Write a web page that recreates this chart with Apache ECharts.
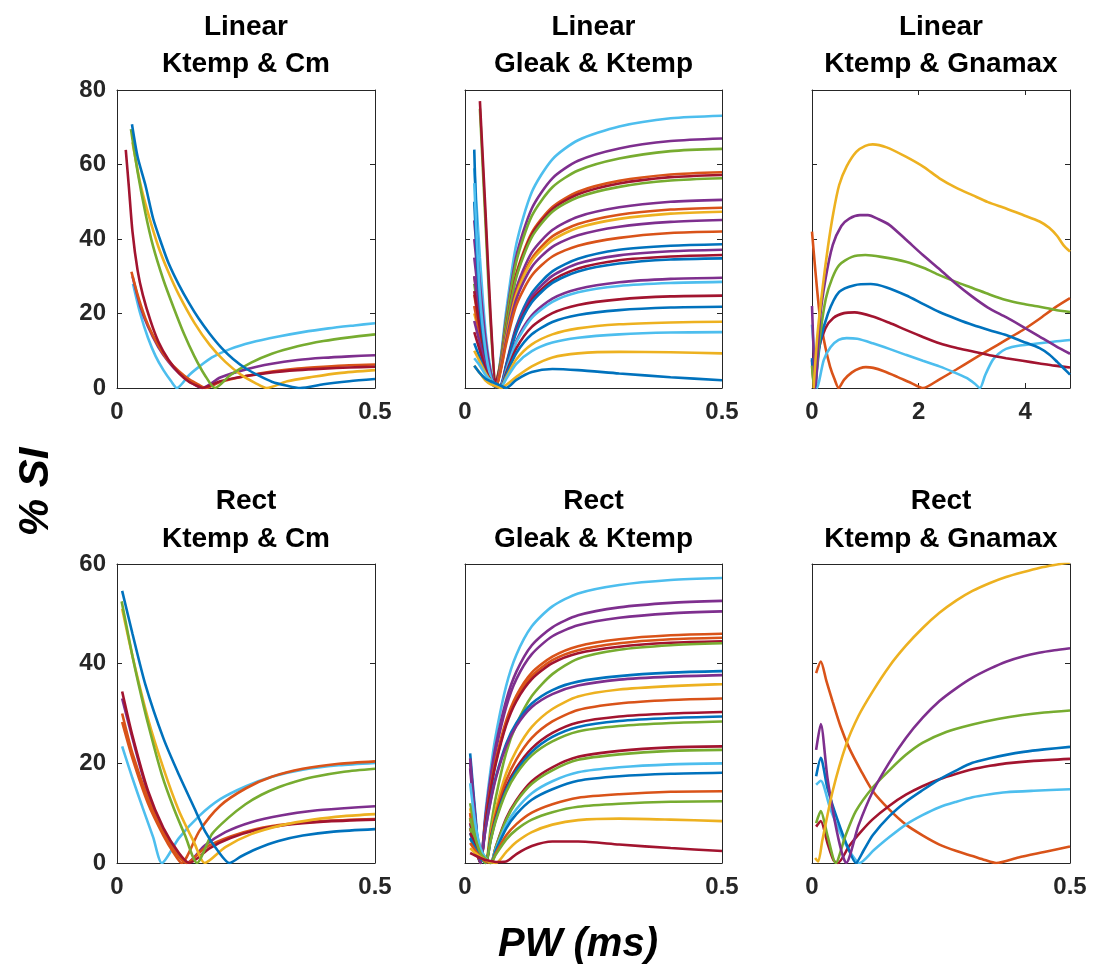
<!DOCTYPE html>
<html><head><meta charset="utf-8">
<script src="https://cdn.jsdelivr.net/npm/echarts@6/dist/echarts.min.js"></script>
<style>html,body{margin:0;padding:0;background:#fff}#c{width:1095px;height:973px}</style>
</head><body><div id="c"></div>
<script>
// MATLAB default colour order
const COL = {blue:'#0072BD', orange:'#D95319', yellow:'#EDB120', purple:'#7E2F8E', green:'#77AC30', lblue:'#4DBEEE', dred:'#A2142F'};

// ---------- Panel titles / axis texts ----------
const rowNames = ['Linear', 'Rect'];
const colNames = ['Ktemp & Cm', 'Gleak & Ktemp', 'Ktemp & Gnamax'];
const yTicksTop = [0, 20, 40, 60, 80];
const yTicksBottom = [0, 20, 40, 60];
const xTicksPW = [0, 0.5];
const xTicksGna = [0, 2, 4];
const yAxisName = '% SI';
const xAxisName = 'PW (ms)';

// ---------- Panel 1: Linear, Ktemp & Cm  ([PW, %SI]) ----------
const p1_blue   = [[0.029,70.8],[0.04,62],[0.055,54.5],[0.07,45.5],[0.087,38.4],[0.1,33.5],[0.12,27.7],[0.14,22.7],[0.158,18.7],[0.18,14.5],[0.203,10.7],[0.225,7.8],[0.249,5.3],[0.275,3.3],[0.3,1.7],[0.33,0.6],[0.355,0],[0.4,1.0],[0.45,1.8],[0.5,2.4]];
const p1_green  = [[0.027,69.5],[0.04,58],[0.055,47],[0.07,38],[0.09,29],[0.11,21.5],[0.13,14.5],[0.15,8.5],[0.17,3.5],[0.19,0],[0.22,3.5],[0.26,6.8],[0.3,9.2],[0.35,11.2],[0.4,12.6],[0.45,13.6],[0.5,14.4]];
const p1_yellow = [[0.03,66],[0.045,55],[0.06,47],[0.08,38],[0.1,31],[0.12,25],[0.15,17.5],[0.18,11.5],[0.21,7],[0.24,3.6],[0.27,1.2],[0.29,0],[0.33,1.8],[0.38,3],[0.43,4],[0.5,4.8]];
const p1_dred   = [[0.017,63.9],[0.023,54],[0.03,42],[0.04,31.5],[0.05,25],[0.065,18],[0.08,12.5],[0.1,7.5],[0.12,4],[0.14,1.6],[0.16,0.3],[0.165,0],[0.2,1.8],[0.25,3.2],[0.3,4.2],[0.35,4.8],[0.4,5.2],[0.45,5.5],[0.5,5.7]];
const p1_orange = [[0.028,31.2],[0.04,25],[0.055,18.7],[0.07,14],[0.087,9.8],[0.1,7.3],[0.12,4.5],[0.14,2.3],[0.158,0.9],[0.172,0],[0.2,1.6],[0.25,3.2],[0.3,4.4],[0.35,5.2],[0.4,5.7],[0.45,6.1],[0.5,6.3]];
const p1_purple = [[0.03,30],[0.045,22],[0.06,16.5],[0.08,11],[0.1,7],[0.12,4],[0.14,1.8],[0.165,0],[0.2,2.8],[0.25,5],[0.3,6.5],[0.35,7.5],[0.4,8.1],[0.45,8.5],[0.5,8.8]];
const p1_lblue  = [[0.031,28],[0.045,20],[0.06,13.5],[0.075,8.5],[0.09,4.8],[0.105,1.8],[0.116,0],[0.14,3.5],[0.16,5.8],[0.184,8.2],[0.22,10.5],[0.26,12.2],[0.313,13.8],[0.36,15],[0.41,16],[0.46,16.8],[0.5,17.4]];

// ---------- Panel 2: Linear, Gleak & Ktemp (shared PW samples) ----------
const p2x = [0.018,0.029,0.04,0.05,0.06,0.07,0.08,0.1,0.13,0.17,0.22,0.3,0.4,0.5];
const p2_01 = [59,35,15,5,0.5,8.8,20.5,38.7,52.6,61.4,66.5,70.2,72.4,73.1];
const p2_02 = [40,25,12,4,0.5,8.0,18.8,35.5,48.2,56.3,61,64.3,66.3,67];
const p2_03 = [null,75,44,17,1.5,7.7,18,34,46.2,53.9,58.4,61.6,63.6,64.2];
const p2_04 = [30,20,10,3.5,0.5,6.9,16.2,30.7,41.7,48.6,52.7,55.6,57.3,57.9];
const p2_05 = [null,77,47,19,1.5,6.9,16,30.3,41.2,48,52,54.9,56.6,57.2];
const p2_06 = [28,18,9,3,0.3,6.8,15.8,29.8,40.5,47.3,51.2,54,55.7,56.3];
const p2_07 = [45,28,13,4,0.5,6.1,14.1,26.8,36.4,42.4,46,48.5,50,50.5];
const p2_08 = [25,16,8,2.5,0.3,5.8,13.6,25.7,34.8,40.7,44,46.5,47.9,48.4];
const p2_09 = [20,14,7,2,0.3,5.7,13.2,25.1,34.1,39.7,43,45.4,46.8,47.3];
const p2_10 = [35,22,10,3,0.4,5.4,12.6,23.9,32.5,37.9,41,43.3,44.6,45.1];
const p2_11 = [22,14,7,2,0.3,5.0,11.8,22.3,30.2,35.3,38.2,40.3,41.6,42];
const p2_12 = [64,20,6,1.5,0.3,0.8,6.2,16.6,25.5,31.3,34.7,37.1,38.2,38.6];
const p2_13 = [30,18,8,2.5,0.5,0.7,5.9,16,24.5,30.1,33.4,35.6,36.7,37.1];
const p2_14 = [26,16,8,3,0.8,0.7,5.7,15.4,23.6,28.9,32.1,34.3,35.3,35.7];
const p2_15 = [50,22,9,3,0.6,0.7,5.6,15,23,28.2,31.3,33.4,34.5,34.8];
const p2_16 = [18,12,6,2,0.5,0.6,4.7,12.7,19.5,24,26.6,28.4,29.3,29.6];
const p2_17 = [55,25,10,3,0.5,0.6,4.6,12.3,18.8,23.1,25.7,27.4,28.2,28.5];
const p2_18 = [15,10,5,2,0.5,0.5,4,10.7,16.4,20.1,22.3,23.8,24.6,24.8];
const p2_19 = [12,8,4,1.5,0.5,0.4,3.5,9.4,14.4,17.7,19.6,20.9,21.6,21.8];
const p2_20 = [10,7,4,2,1,0.3,2.8,7.7,11.7,14.4,16,17.1,17.6,17.8];
const p2_21 = [8,6,3.5,2,1,0.3,2.4,6.5,9.9,12.2,13.5,14.4,14.9,15];
const p2_22 = [6,4,2,1,0.5,0,0.8,3,5.8,8.2,9.3,9.7,9.6,9.3];
const p2_23 = [6,4,2.5,1.8,1.2,0.6,0,2.2,4.3,5.1,4.8,3.9,2.9,2.1];
const p2_colors = ['lblue','purple','green','orange','dred','green','purple','orange','yellow','purple','orange','blue','purple','dred','blue','purple','lblue','dred','blue','yellow','lblue','yellow','blue'];

// ---------- Panel 3: Linear, Ktemp & Gnamax ----------
const p3_yellow = [[0.03,0],[0.1,14],[0.2,27],[0.3,38],[0.4,47],[0.51,54.5],[0.65,59.5],[0.83,63.4],[1.0,65],[1.14,65.4],[1.4,64.6],[1.76,62.1],[2.1,59.3],[2.39,56.3],[2.7,53.8],[3.02,51.7],[3.3,49.9],[3.64,48.2],[3.95,46.5],[4.27,44.7],[4.45,43],[4.6,40.8],[4.72,38.3],[4.84,36.6]];
const p3_purple = [[0,22],[0.03,10],[0.06,0],[0.15,18.7],[0.25,29],[0.39,38.4],[0.55,43.5],[0.7,45.5],[0.9,46.4],[1.05,46.4],[1.25,45.3],[1.45,43.8],[1.75,40],[2.08,35.7],[2.4,31.8],[2.7,28],[3.0,24.6],[3.3,21.6],[3.64,19],[3.95,16.5],[4.27,13.8],[4.58,11.2],[4.84,9.2]];
const p3_green  = [[0,6],[0.04,0],[0.15,14],[0.26,24],[0.38,29.5],[0.51,33],[0.75,35.2],[1.0,35.7],[1.3,35.2],[1.76,33.9],[2.1,32.2],[2.39,30.3],[2.7,28.5],[3.02,26.8],[3.33,25.1],[3.64,23.6],[3.95,22.6],[4.27,21.8],[4.55,21],[4.84,20.4]];
const p3_blue   = [[0,8],[0.05,0],[0.15,12],[0.3,20],[0.51,25.8],[0.8,27.6],[1.1,27.9],[1.4,27],[1.76,24.9],[2.08,22.6],[2.39,20.4],[2.7,18.6],[3.02,16.9],[3.33,15.5],[3.64,14.2],[3.95,12.5],[4.27,10.7],[4.45,9],[4.6,7],[4.72,5.3],[4.84,3.6]];
const p3_dred   = [[0,7.5],[0.04,0],[0.12,10],[0.25,16],[0.4,18.8],[0.6,20.1],[0.8,20.3],[1.14,19.2],[1.45,17.5],[1.76,15.6],[2.08,13.7],[2.39,12],[2.7,10.8],[3.02,9.8],[3.33,8.8],[3.64,8],[3.95,7.3],[4.27,6.6],[4.55,6],[4.84,5.5]];
const p3_lblue  = [[0,17],[0.05,8],[0.1,0],[0.22,7.5],[0.35,11],[0.5,12.9],[0.65,13.4],[0.85,13.2],[1.14,12],[1.45,10.5],[1.76,8.9],[2.08,7.3],[2.39,5.8],[2.65,4.3],[2.9,2.7],[3.05,1.2],[3.15,0],[3.25,3.5],[3.39,7.5],[3.5,9.2],[3.64,10.5],[3.9,11.4],[4.27,12],[4.55,12.5],[4.84,12.9]];
const p3_orange = [[0,42],[0.06,32],[0.15,19],[0.25,11],[0.34,5.7],[0.42,2.5],[0.5,0],[0.6,2.2],[0.75,4.2],[0.9,5.3],[1.01,5.6],[1.15,5.4],[1.35,4.5],[1.6,3],[1.85,1.4],[2.08,0],[2.4,2.4],[2.7,4.9],[3.02,7.7],[3.33,10.3],[3.64,12.9],[3.95,15.5],[4.27,18.6],[4.55,21.5],[4.84,24.1]];

// ---------- Panel 4: Rect, Ktemp & Cm ----------
const p4_blue    = [[0.01,54.6],[0.03,46],[0.055,35.8],[0.09,25],[0.12,17.7],[0.15,11],[0.171,6.3],[0.195,2.5],[0.218,0],[0.24,1.3],[0.27,2.8],[0.313,4.4],[0.36,5.5],[0.42,6.3],[0.5,6.8]];
const p4_green   = [[0.009,52.5],[0.03,41.5],[0.042,35.8],[0.06,28],[0.087,17.7],[0.11,11],[0.132,5.5],[0.155,0],[0.184,5.8],[0.215,9],[0.249,11.8],[0.28,13.7],[0.313,15.2],[0.345,16.3],[0.378,17.2],[0.44,18.3],[0.5,18.9]];
const p4_yellow  = [[0.01,51],[0.03,41.5],[0.06,29],[0.09,19],[0.12,10.5],[0.15,4],[0.17,0],[0.21,3.2],[0.26,5.8],[0.32,7.6],[0.38,8.7],[0.44,9.4],[0.5,9.8]];
const p4_lblue   = [[0.01,23.4],[0.03,17],[0.05,11],[0.07,5.2],[0.087,0],[0.12,5],[0.16,9.5],[0.2,12.8],[0.25,15.4],[0.3,17.3],[0.36,18.7],[0.43,19.6],[0.5,20.1]];
const p4_orange  = [[0.01,28.3],[0.03,21],[0.06,12],[0.09,5.5],[0.11,2],[0.125,0],[0.16,6.5],[0.2,11.5],[0.25,15],[0.3,17.3],[0.36,18.9],[0.43,19.9],[0.5,20.4]];
const p4_purple  = [[0.01,33],[0.03,25],[0.06,14],[0.09,6.5],[0.12,1.5],[0.135,0],[0.17,3.5],[0.21,6.2],[0.26,8.2],[0.32,9.6],[0.38,10.5],[0.44,11],[0.5,11.4]];
const p4_dred    = [[0.01,34.4],[0.03,25.5],[0.06,14.5],[0.09,7],[0.12,2],[0.14,0],[0.18,3],[0.22,5],[0.27,6.6],[0.33,7.7],[0.4,8.3],[0.5,8.7]];
const p4_orange2 = [[0.01,30],[0.03,22],[0.06,13],[0.09,6],[0.12,1.2],[0.135,0],[0.17,3],[0.22,5.3],[0.27,6.8],[0.33,7.8],[0.4,8.4],[0.5,8.8]];

// ---------- Panel 5: Rect, Gleak & Ktemp (shared PW samples) ----------
const p5x = [0.01,0.02,0.03,0.04,0.05,0.06,0.08,0.1,0.13,0.17,0.22,0.3,0.4,0.5];
const p5_01 = [8,3,0,10.3,18.9,25.7,35.5,41.8,47.5,51.5,54.1,55.8,56.8,57.2];
const p5_02 = [20,9,0,9.5,17.4,23.7,32.6,38.4,43.7,47.3,49.7,51.3,52.2,52.6];
const p5_03 = [19,8,0,9.1,16.7,22.7,31.3,36.9,41.9,45.5,47.7,49.2,50.1,50.5];
const p5_04 = [10,4,0,8.3,15.2,20.7,28.5,33.6,38.2,41.4,43.5,44.9,45.7,46];
const p5_05 = [9,3.5,0,8.1,14.9,20.3,28,33,37.5,40.7,42.7,44.1,44.9,45.2];
const p5_06 = [7,3,0,8,14.7,20,27.6,32.5,36.9,40.1,42.1,43.4,44.2,44.5];
const p5_07 = [5,3,1.2,0,7.1,13.2,22.1,27.8,33.5,37.9,41,42.8,43.7,44.1];
const p5_08 = [22,10,0,6.9,12.7,17.3,23.9,28.1,32,34.7,36.4,37.5,38.2,38.5];
const p5_09 = [21,9,0,6.8,12.4,17,23.4,27.5,31.3,33.9,35.6,36.8,37.4,37.7];
const p5_10 = [11,6,2,0,5.7,10.8,18,22.6,27.3,30.9,33.4,34.8,35.5,35.9];
const p5_11 = [10,5.5,2,0,5.3,9.9,16.5,20.8,25.1,28.4,30.7,32,32.7,33];
const p5_12 = [8,4,1.5,0,4.8,9.1,15.2,19.1,23,26.1,28.2,29.4,30,30.3];
const p5_13 = [6,3,1,0,4.7,8.8,14.7,18.5,22.3,25.3,27.3,28.5,29.1,29.4];
const p5_14 = [7,4,1.5,0,4.5,8.5,14.2,17.9,21.6,24.4,26.4,27.5,28.1,28.4];
const p5_15 = [6,4,2,0.8,0,3.3,8.9,12.6,16.4,19.2,21.3,22.5,23.2,23.4];
const p5_16 = [12,7,3,1,0,3.2,8.6,12.3,15.9,18.6,20.7,21.8,22.5,22.7];
const p5_17 = [16,8,3,1,0,2.8,7.6,10.8,14,16.4,18.2,19.2,19.8,20];
const p5_18 = [5,3,1.5,0.5,0,2.5,6.9,9.8,12.7,14.8,16.5,17.4,17.9,18.1];
const p5_19 = [4,2.5,1.2,0.4,0,2,5.5,7.8,10.1,11.8,13.1,13.8,14.3,14.4];
const p5_20 = [9,5,2,0.8,0,1.7,4.7,6.7,8.7,10.2,11.3,11.9,12.3,12.4];
const p5_21 = [3,2,1.2,0.6,0.2,0,2.2,4.2,6.2,7.7,8.6,8.9,8.7,8.4];
const p5_22 = [2,1.5,1,0.6,0.4,0.2,0.3,1.8,3.4,4.3,4.3,3.7,3,2.4];
const p5_colors = ['lblue','purple','purple','orange','orange','dred','green','blue','purple','yellow','orange','dred','blue','green','dred','green','lblue','blue','orange','green','yellow','dred'];

// ---------- Panel 6: Rect, Ktemp & Gnamax ----------
const p6_yellow = [[0.006,1],[0.012,0.3],[0.02,4.5],[0.04,14.4],[0.066,23.7],[0.09,29.5],[0.118,34.5],[0.15,39.5],[0.182,43.6],[0.215,47.2],[0.247,50.2],[0.28,52.7],[0.311,54.6],[0.345,56.2],[0.376,57.4],[0.41,58.4],[0.44,59.2],[0.47,59.8],[0.5,60.3]];
const p6_purple = [[0.008,22.7],[0.017,27.9],[0.03,17],[0.045,8],[0.058,2],[0.066,0],[0.09,7.5],[0.118,14.4],[0.15,20.2],[0.182,25.1],[0.215,29.2],[0.247,32.5],[0.28,35.1],[0.311,37.2],[0.345,39],[0.376,40.4],[0.41,41.5],[0.44,42.2],[0.47,42.7],[0.5,43.1]];
const p6_green  = [[0.008,8],[0.017,10.4],[0.03,5.5],[0.046,0],[0.065,5.5],[0.085,10.4],[0.118,15.2],[0.15,18.6],[0.182,21.7],[0.214,24.1],[0.26,26.3],[0.311,27.8],[0.36,28.9],[0.408,29.7],[0.45,30.2],[0.5,30.6]];
const p6_blue   = [[0.008,17.4],[0.017,21.1],[0.03,15],[0.05,8.5],[0.07,3],[0.085,0],[0.1,2.5],[0.118,5.6],[0.15,9.4],[0.182,12.3],[0.214,14.6],[0.247,16.8],[0.28,18.6],[0.311,20.1],[0.345,21],[0.376,21.7],[0.41,22.3],[0.45,22.8],[0.5,23.3]];
const p6_dred   = [[0.008,7.3],[0.017,8.4],[0.03,4],[0.042,0.5],[0.05,0],[0.072,3.4],[0.095,6.3],[0.118,8.8],[0.15,11.5],[0.182,13.7],[0.214,15.4],[0.247,16.8],[0.28,17.9],[0.311,18.8],[0.345,19.5],[0.376,20],[0.43,20.5],[0.5,20.9]];
const p6_lblue  = [[0.008,15.7],[0.017,16.5],[0.035,11],[0.055,6],[0.075,2],[0.092,0],[0.12,2.6],[0.15,5.2],[0.182,7.7],[0.214,9.6],[0.247,11.2],[0.28,12.3],[0.311,13.2],[0.345,13.8],[0.376,14.2],[0.43,14.5],[0.5,14.8]];
const p6_orange = [[0.008,38.1],[0.017,40.4],[0.028,36.5],[0.04,32.4],[0.055,27.5],[0.072,23.1],[0.095,18.5],[0.118,14.4],[0.15,10.7],[0.182,7.7],[0.215,5.5],[0.247,3.7],[0.28,2.4],[0.311,1.4],[0.335,0.6],[0.357,0],[0.4,1.1],[0.45,2.2],[0.5,3.3]];

// ---------- layout ----------
const FONT = "'Liberation Sans', Arial, Helvetica, sans-serif";
const AXC = '#262626';
const panels = [
  {left:117, top:90,  width:258, height:298, xmax:0.5,  xint:0.5, ymax:80, ylab:true},
  {left:465, top:90,  width:257, height:298, xmax:0.5,  xint:0.5, ymax:80, ylab:false},
  {left:812, top:90,  width:258, height:298, xmax:4.84, xint:2,   ymax:80, ylab:false},
  {left:117, top:564, width:258, height:299, xmax:0.5,  xint:0.5, ymax:60, ylab:true},
  {left:465, top:564, width:257, height:299, xmax:0.5,  xint:0.5, ymax:60, ylab:false},
  {left:812, top:564, width:258, height:299, xmax:0.5,  xint:0.5, ymax:60, ylab:false}
];

const grid = [], xAxis = [], yAxis = [], series = [], graphic = [];
panels.forEach((p, i) => {
  grid.push({left:p.left, top:p.top, width:p.width, height:p.height, containLabel:false});
  const line = {show:true, onZero:false, lineStyle:{color:AXC, width:1}};
  const tick = {show:true, inside:true, length:5, lineStyle:{color:AXC, width:1}};
  const lab = {fontSize:24, fontWeight:'bold', color:AXC, fontFamily:FONT};
  const xticks = (i === 2) ? xTicksGna : xTicksPW;
  xAxis.push({gridIndex:i, type:'value', position:'bottom', min:0, max:p.xmax, interval:p.xint,
    axisLine:line, axisTick:tick, splitLine:{show:false},
    axisLabel:Object.assign({show:true, margin:12, showMaxLabel: i !== 2,
      formatter: v => xticks.some(t => Math.abs(t - v) < 1e-9) ? String(v) : ''}, lab)});
  xAxis.push({gridIndex:i, type:'value', position:'top', min:0, max:p.xmax, interval:p.xint,
    axisLine:line, axisTick:tick, splitLine:{show:false}, axisLabel:{show:false}});
  const yt = p.ymax === 80 ? yTicksTop : yTicksBottom;
  yAxis.push({gridIndex:i, type:'value', position:'left', min:0, max:p.ymax, interval:20,
    axisLine:line, axisTick:tick, splitLine:{show:false},
    axisLabel:Object.assign({show:p.ylab, margin:11, formatter: v => yt.includes(v) ? String(v) : ''}, lab)});
  yAxis.push({gridIndex:i, type:'value', position:'right', min:0, max:p.ymax, interval:20,
    axisLine:line, axisTick:tick, splitLine:{show:false}, axisLabel:{show:false}});

  const row = i < 3 ? 0 : 1, col = i % 3;
  const cx = p.left + p.width / 2;
  const y1 = row === 0 ? 27 : 501, y2 = row === 0 ? 64 : 539;
  [[rowNames[row], y1], [colNames[col], y2]].forEach(([t, y]) => {
    graphic.push({type:'text', x:cx, y:y, silent:true,
      style:{text:t, fill:'#000', fontSize:28, fontWeight:'bold', fontFamily:FONT, align:'center', verticalAlign:'middle'}});
  });
});

graphic.push({type:'text', x:36, y:492, rotation:Math.PI/2, silent:true,
  style:{text:yAxisName, fill:'#000', fontSize:42, fontWeight:'bold', fontStyle:'italic', fontFamily:FONT, align:'center', verticalAlign:'middle'}});
graphic.push({type:'text', x:578, y:945, silent:true,
  style:{text:xAxisName, fill:'#000', fontSize:40, fontWeight:'bold', fontStyle:'italic', fontFamily:FONT, align:'center', verticalAlign:'middle'}});

function addLine(panel, pts, colorKey) {
  series.push({type:'line', xAxisIndex:panel*2, yAxisIndex:panel*2, data:pts, showSymbol:false,
    smooth:0.25, clip:true, silent:true, lineStyle:{width:2.6, color:COL[colorKey]}, itemStyle:{color:COL[colorKey]}});
}
function fromGrid(xs, vs) { return xs.map((x, k) => [x, vs[k]]).filter(d => d[1] !== null); }

// panel 1
addLine(0, p1_lblue, 'lblue'); addLine(0, p1_purple, 'purple'); addLine(0, p1_orange, 'orange');
addLine(0, p1_dred, 'dred'); addLine(0, p1_yellow, 'yellow'); addLine(0, p1_green, 'green'); addLine(0, p1_blue, 'blue');
// panel 2
const p2all = [p2_01,p2_02,p2_03,p2_04,p2_05,p2_06,p2_07,p2_08,p2_09,p2_10,p2_11,p2_12,p2_13,p2_14,p2_15,p2_16,p2_17,p2_18,p2_19,p2_20,p2_21,p2_22,p2_23];
p2all.forEach((v, k) => addLine(1, fromGrid(p2x, v), p2_colors[k]));
// panel 3
addLine(2, p3_orange, 'orange'); addLine(2, p3_lblue, 'lblue'); addLine(2, p3_dred, 'dred'); addLine(2, p3_blue, 'blue');
addLine(2, p3_green, 'green'); addLine(2, p3_purple, 'purple'); addLine(2, p3_yellow, 'yellow');
// panel 4
addLine(3, p4_lblue, 'lblue'); addLine(3, p4_orange, 'orange'); addLine(3, p4_purple, 'purple'); addLine(3, p4_orange2, 'orange');
addLine(3, p4_dred, 'dred'); addLine(3, p4_yellow, 'yellow'); addLine(3, p4_green, 'green'); addLine(3, p4_blue, 'blue');
// panel 5
const p5all = [p5_01,p5_02,p5_03,p5_04,p5_05,p5_06,p5_07,p5_08,p5_09,p5_10,p5_11,p5_12,p5_13,p5_14,p5_15,p5_16,p5_17,p5_18,p5_19,p5_20,p5_21,p5_22];
p5all.forEach((v, k) => addLine(4, fromGrid(p5x, v), p5_colors[k]));
// panel 6
addLine(5, p6_orange, 'orange'); addLine(5, p6_lblue, 'lblue'); addLine(5, p6_dred, 'dred'); addLine(5, p6_blue, 'blue');
addLine(5, p6_green, 'green'); addLine(5, p6_purple, 'purple'); addLine(5, p6_yellow, 'yellow');

const chart = echarts.init(document.getElementById('c'), null, {renderer:'canvas'});
chart.setOption({animation:false, backgroundColor:'#fff', grid, xAxis, yAxis, series, graphic});
</script>
</body></html>
